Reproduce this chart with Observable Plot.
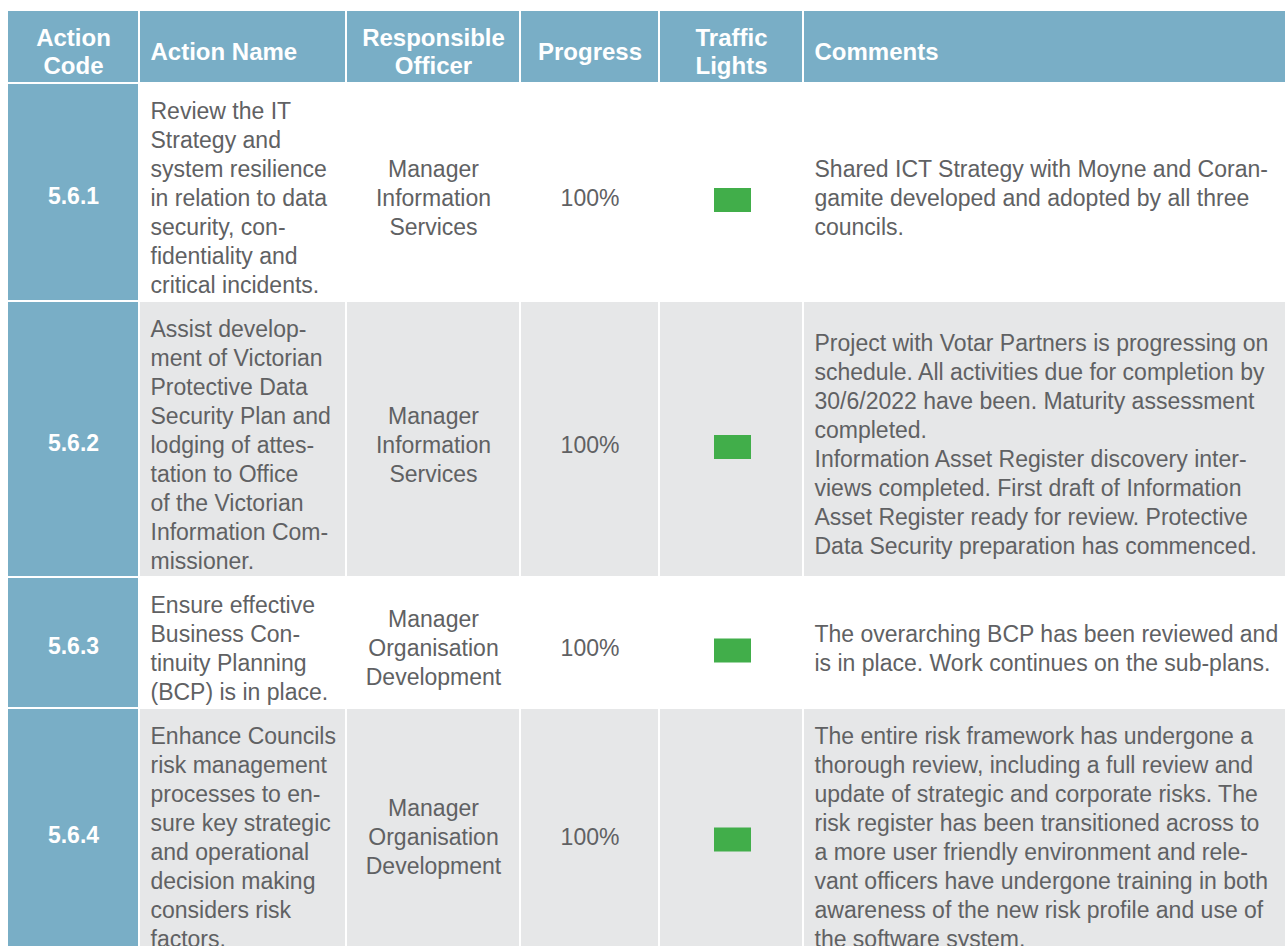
<!DOCTYPE html>
<html><head><meta charset="utf-8">
<script src="https://cdn.jsdelivr.net/npm/d3@7"></script>
<script src="https://cdn.jsdelivr.net/npm/@observablehq/plot@0.6"></script>
<style>html,body{margin:0;padding:0;background:#fff;overflow:hidden}</style>
</head><body><div id="chart"></div>
<script>
// ---- data ----
const headers = ["Action\nCode", "Action Name", "Responsible\nOfficer", "Progress", "Traffic\nLights", "Comments"];
const codes = ["5.6.1", "5.6.2", "5.6.3", "5.6.4"];
const actionNames = [
  "Review the IT\nStrategy and\nsystem resilience\nin relation to data\nsecurity, con-\nfidentiality and\ncritical incidents.",
  "Assist develop-\nment of Victorian\nProtective Data\nSecurity Plan and\nlodging of attes-\ntation to Office\nof the Victorian\nInformation Com-\nmissioner.",
  "Ensure effective\nBusiness Con-\ntinuity Planning\n(BCP) is in place.",
  "Enhance Councils\nrisk management\nprocesses to en-\nsure key strategic\nand operational\ndecision making\nconsiders risk\nfactors."
];
const officers = [
  "Manager\nInformation\nServices",
  "Manager\nInformation\nServices",
  "Manager\nOrganisation\nDevelopment",
  "Manager\nOrganisation\nDevelopment"
];
const progress = [100, 100, 100, 100];
const trafficLights = ["green", "green", "green", "green"];
const comments = [
  "Shared ICT Strategy with Moyne and Coran-\ngamite developed and adopted by all three\ncouncils.",
  "Project with Votar Partners is progressing on\nschedule. All activities due for completion by\n30/6/2022 have been. Maturity assessment\ncompleted.\nInformation Asset Register discovery inter-\nviews completed. First draft of Information\nAsset Register ready for review. Protective\nData Security preparation has commenced.",
  "The overarching BCP has been reviewed and\nis in place. Work continues on the sub-plans.",
  "The entire risk framework has undergone a\nthorough review, including a full review and\nupdate of strategic and corporate risks. The\nrisk register has been transitioned across to\na more user friendly environment and rele-\nvant officers have undergone training in both\nawareness of the new risk profile and use of\nthe software system."
];

// ---- layout & style ----
const W = 1285, H = 946;
const colEdges = [[8, 138], [140, 345], [347, 519], [521, 658], [660, 802], [804, 1295]];
const colAlign = ["middle", "start", "middle", "middle", "middle", "start"];
const padLeft = 10;
const headerTop = 11, headerBottom = 82, headerMid = 51;
const lineStep = 29, rowPad = 13, gap = 2, textShift = 4;
const bodyFont = 23, headFont = 24, codeFont = 23;
const blue = "#79aec6", gray = "#e6e7e8", textColor = "#606163";
const lightColors = {green: "#41ae4a", amber: "#f5a623", red: "#e53935"};
const lightW = 37, lightH = 24, lightShift = 4;
const font = "'Liberation Sans', Arial, Helvetica, sans-serif";

const colX = j => colAlign[j] === "start" ? colEdges[j][0] + padLeft : (colEdges[j][0] + colEdges[j][1]) / 2;
const nLines = s => s.split("\n").length;

const rows = [];
let cursorY = headerBottom + gap;
codes.forEach((code, i) => {
  const n = Math.max(nLines(actionNames[i]), nLines(officers[i]), nLines(comments[i]));
  const h = n * lineStep + rowPad;
  rows.push({i, code, name: actionNames[i], officer: officers[i], progress: progress[i],
    light: trafficLights[i], comment: comments[i], y1: cursorY, y2: cursorY + h, yc: cursorY + h / 2 + textShift});
  cursorY += h + gap;
});

const headerCells = headers.map((h, j) => ({j, label: h}));
const cells = rows.flatMap(r => colEdges.map((e, j) => ({r, j})));

const bodyText = (value, j) => Plot.text(rows, {
  x: () => colX(j), y: "yc", text: value,
  textAnchor: colAlign[j], lineAnchor: "middle", lineHeight: lineStep / bodyFont,
  fontSize: bodyFont, fontFamily: font, fill: textColor
});
const headText = anchor => Plot.text(headerCells.filter(d => colAlign[d.j] === anchor), {
  x: d => colX(d.j), y: () => headerMid, text: "label",
  textAnchor: anchor, lineAnchor: "middle", lineHeight: 28 / headFont,
  fontSize: headFont, fontWeight: "bold", fontFamily: font, fill: "#ffffff"
});

const chart = Plot.plot({
  width: W, height: H, margin: 0,
  x: {type: "linear", domain: [0, W], range: [0, W], axis: null},
  y: {type: "linear", domain: [0, H], range: [0, H], axis: null},
  style: {background: "#ffffff", fontFamily: font},
  marks: [
    Plot.rect(headerCells, {x1: d => colEdges[d.j][0], x2: d => colEdges[d.j][1], y1: () => headerTop, y2: () => headerBottom, fill: blue}),
    Plot.rect(cells, {
      x1: d => colEdges[d.j][0], x2: d => colEdges[d.j][1], y1: d => d.r.y1, y2: d => d.r.y2,
      fill: d => d.j === 0 ? blue : (d.r.i % 2 === 1 ? gray : "#ffffff")
    }),
    headText("middle"),
    headText("start"),
    Plot.text(rows, {
      x: () => colX(0), y: "yc", text: "code", textAnchor: "middle", lineAnchor: "middle",
      fontSize: codeFont, fontWeight: "bold", fontFamily: font, fill: "#ffffff"
    }),
    bodyText("name", 1),
    bodyText("officer", 2),
    bodyText(d => d.progress + "%", 3),
    bodyText("comment", 5),
    Plot.rect(rows, {
      x1: () => colX(4) - lightW / 2 + 1.5, x2: () => colX(4) + lightW / 2 + 1.5,
      y1: d => d.yc + lightShift - lightH / 2, y2: d => d.yc + lightShift + lightH / 2,
      fill: d => lightColors[d.light]
    })
  ]
});
document.getElementById("chart").appendChild(chart);
</script>
</body></html>
